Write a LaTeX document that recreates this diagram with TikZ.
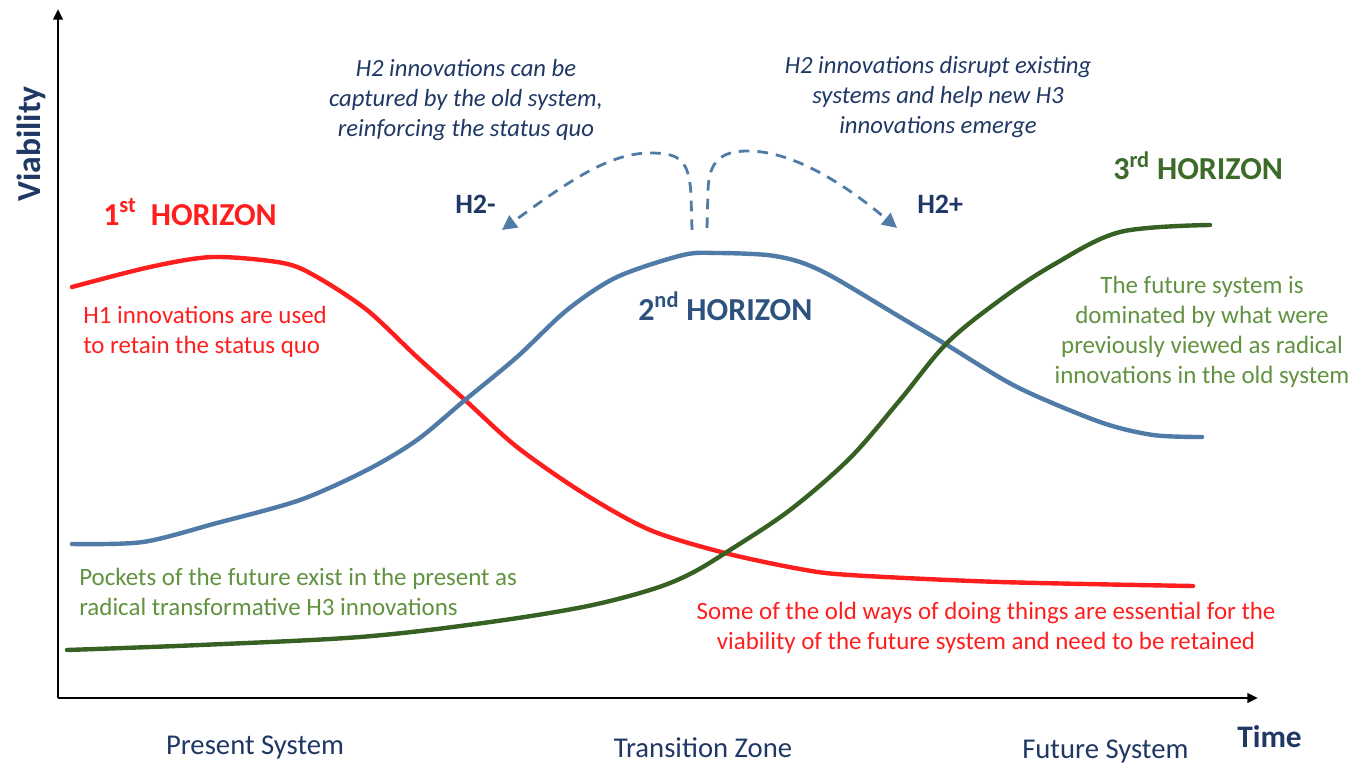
\documentclass[tikz,border=0pt]{standalone}
\usepackage{fontspec}
\setmainfont{Carlito}
\usetikzlibrary{arrows.meta}
\definecolor{hred}{RGB}{255,30,30}
\definecolor{hblue}{RGB}{79,123,166}
\definecolor{hnavy}{RGB}{31,56,100}
\definecolor{hblue2}{RGB}{44,82,125}
\definecolor{hgreen}{RGB}{55,96,35}
\definecolor{hgreen3}{RGB}{61,107,42}
\definecolor{hgtext}{RGB}{96,146,64}
\tikzset{
  curve/.style={line width=3.3pt, line cap=round, line join=round},
  axisline/.style={line width=1.9pt, -{Triangle[length=8pt,width=7pt]}},
  dasharrow/.style={hblue, line width=2.1pt, dash pattern=on 8pt off 6pt, -{Triangle[length=11pt,width=11pt]}},
  bighead/.style={inner sep=0, font=\fontsize{24}{28}\selectfont\bfseries},
  bodytxt/.style={inner sep=0, font=\fontsize{18.7}{22.5}\selectfont},
  ittxt/.style={inner sep=0, align=center, text=hnavy, font=\fontsize{18.5}{22.2}\selectfont\itshape},
  axislab/.style={inner sep=0, text=hnavy, font=\fontsize{21.5}{25}\selectfont},
}
\begin{document}
\begin{tikzpicture}[x=0.75pt,y=-0.75pt]
\useasboundingbox (0,0) rectangle (1362,763);
% axes
\coordinate (origin) at (58,698);
\coordinate (ytip) at (58,9);
\coordinate (xtip) at (1258,698);
\draw[axisline] (origin) -- (ytip);
\draw[axisline] (origin) -- (xtip);
% curves
\draw[curve, hred] plot[smooth, tension=0.5] coordinates {(72,287) (150,267) (213,257) (283,263) (317,277) (367,310) (417,357) (465,400) (517,447) (583,493) (650,530) (725,553) (800,569) (850,575) (1000,582) (1193,586)};
\draw[curve, hblue] plot[smooth, tension=0.5] coordinates {(72,544) (143,542) (217,523) (300,500) (367,470) (417,440) (465,400) (517,357) (567,310) (617,277) (683,255) (717,253) (767,255) (800,262) (833,277) (900,317) (947,345) (1017,387) (1100,422) (1153,435) (1202,437)};
\draw[curve, hgreen] plot[smooth, tension=0.55] coordinates {(67,650) (200,645) (360,637) (483,623) (583,607) (650,590) (690,574) (730,550) (790,510) (850,458) (900,400) (947,343) (1000,300) (1053,265) (1120,232) (1210,225)};
% dashed arrows
\coordinate (l0) at (692,230);
\coordinate (l1) at (502,230);
\coordinate (r0) at (707,228);
\coordinate (r1) at (897,228);
\draw[dasharrow] (l0) -- (691,195) .. controls (689,160) and (680,153) .. (650,153) .. controls (610,153) and (570,180) .. (l1);
\draw[dasharrow] (r0) -- (708,190) .. controls (709,162) and (720,151) .. (748,151) .. controls (790,151) and (840,180) .. (r1);
% labels
\node[bighead, text=hnavy, rotate=90, anchor=base, font=\fontsize{25.2}{28}\selectfont\bfseries] (vlab) at (40,144) {Viability};
\node[bighead, text=hnavy, anchor=base west, font=\fontsize{23.5}{28}\selectfont\bfseries] (tlab) at (1237,747) {Time};
\node[bighead, text=hred, anchor=base west] (h1) at (103,225) {1\textsuperscript{st}\hspace{0.22em} HORIZON};
\node[bighead, text=hblue2, anchor=base west] (h2) at (638,320) {2\textsuperscript{nd} HORIZON};
\node[bighead, text=hgreen3, anchor=base west] (h3) at (1113,180) {3\textsuperscript{rd} HORIZON};
\node[inner sep=0, text=hnavy, anchor=base west, font=\fontsize{21}{25}\selectfont\bfseries] (h2m) at (455,213) {H2-};
\node[inner sep=0, text=hnavy, anchor=base west, font=\fontsize{21}{25}\selectfont\bfseries] (h2p) at (917,213) {H2+};
\node[bodytxt, text=hred, align=left, anchor=west] (t1) at (83,332) {H1 innovations are used\\to retain the status quo};
\node[ittxt] (t2m) at (466,100) {H2 innovations can be\\captured by the old system,\\reinforcing the status quo};
\node[ittxt] (t2p) at (938,97) {H2 innovations disrupt existing\\systems and help new H3\\innovations emerge};
\node[bodytxt, text=hgtext, align=center] (t3) at (1202,332) {The future system is\\dominated by what were\\previously viewed as radical\\innovations in the old system};
\node[bodytxt, text=hgtext, align=left, anchor=west] (tp) at (79,592) {Pockets of the future exist in the present as\\radical transformative H3 innovations};
\node[bodytxt, text=hred, align=center] (to) at (986,628) {Some of the old ways of doing things are essential for the\\viability of the future system and need to be retained};
\node[axislab, anchor=base] (ps) at (255,754) {Present System};
\node[axislab, anchor=base] (tz) at (703,757) {Transition Zone};
\node[axislab, anchor=base west] (fs) at (1022,758) {Future System};
\end{tikzpicture}
\end{document}
